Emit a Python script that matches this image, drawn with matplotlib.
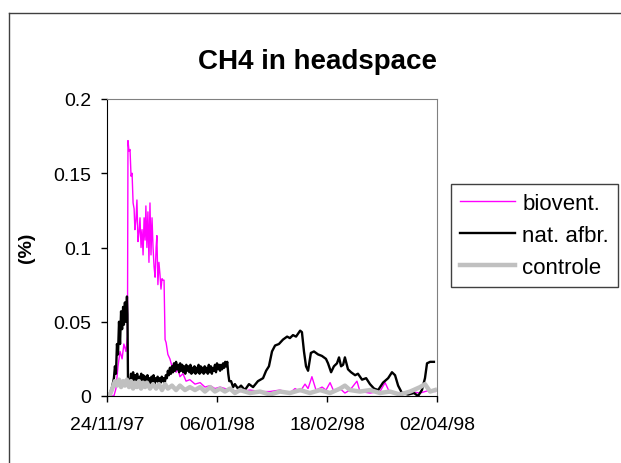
import matplotlib
matplotlib.use("Agg")
import matplotlib.pyplot as plt
import matplotlib.dates as mdates
from matplotlib.lines import Line2D
import numpy as np
import pandas as pd

plt.rcParams['font.family'] = ['Liberation Sans', 'DejaVu Sans']

start = pd.Timestamp('1997-11-24')

# days after 24/11/97, CH4 in %
bio_days = [0, 2.7, 3.5, 4.3, 5.1, 5.9, 6.6, 7.4, 8.0, 8.2, 8.6, 9.0, 9.4, 9.8, 10.2,
            10.6, 10.9, 11.3, 11.7, 12.1, 12.5, 12.9, 13.3, 13.7, 14.1, 14.5, 14.9,
            15.2, 15.6, 16.0, 16.4, 16.8, 17.2, 17.6, 18.0, 18.4, 18.8, 19.2, 19.5,
            19.9, 20.3, 20.7, 21.1, 21.5, 21.9, 22.3, 22.7, 23.1, 23.8, 24.6, 25.4,
            26.2, 27.0, 27.8, 28.5, 29.7, 30.9, 32.4, 34.4, 36.4, 38.3, 40.3, 42.2,
            44.2, 48.1, 52.0, 55.9, 59.8, 63.7, 67.6, 71.5, 73.5, 75.5, 77.4, 78.6,
            80.1, 81.7, 84.1, 85.6, 87.2, 88.7, 91.1, 93.0, 95.0, 97.7, 98.9, 102.8,
            106.7, 108.7, 110.6, 114.5, 118.5, 122.4, 126.3, 128.2]
bio_vals = [0, 0, 0.005, 0.02, 0.03, 0.025, 0.035, 0.03, 0.04, 0.172, 0.165, 0.166,
            0.148, 0.15, 0.13, 0.126, 0.112, 0.118, 0.132, 0.104, 0.11, 0.12, 0.1,
            0.112, 0.095, 0.12, 0.105, 0.128, 0.1, 0.124, 0.09, 0.13, 0.095, 0.12,
            0.1, 0.087, 0.08, 0.1, 0.108, 0.075, 0.09, 0.082, 0.072, 0.079, 0.078,
            0.078, 0.038, 0.036, 0.028, 0.025, 0.02, 0.022, 0.016, 0.018, 0.013,
            0.015, 0.01, 0.011, 0.008, 0.009, 0.006, 0.007, 0.005, 0.006, 0.004,
            0.003, 0.004, 0.003, 0.003, 0.004, 0.002, 0.005, 0.003, 0.008, 0.005,
            0.013, 0.004, 0.006, 0.004, 0.009, 0.003, 0.005, 0.002, 0.004, 0.01,
            0.003, 0.002, 0.003, 0.009, 0.002, 0.002, 0.003, 0.002, 0.004, 0.003]

# nat. afbr.: first peak, dense noisy plateau (readings every 0.4 day), later part
nat_head_days = [0, 1.2, 2.0, 2.7, 3.1, 3.5, 3.9, 4.3, 4.7, 5.1, 5.5, 5.9, 6.3, 6.6,
                 7.0, 7.4, 7.8, 8.0, 8.2]
nat_head_vals = [0, 0.002, 0.006, 0.012, 0.02, 0.015, 0.035, 0.028, 0.05, 0.035,
                 0.057, 0.045, 0.06, 0.048, 0.063, 0.05, 0.067, 0.055, 0.012]
nat_mid_days = [round(9.0 + 0.4 * i, 1) for i in range(98)]
nat_mid_vals = [0.008, 0.015, 0.01, 0.016, 0.009, 0.014, 0.011, 0.015, 0.008, 0.013,
                0.01, 0.015, 0.009, 0.014, 0.01, 0.013, 0.008, 0.014, 0.01, 0.012,
                0.008, 0.013, 0.009, 0.014, 0.008, 0.012, 0.01, 0.013, 0.008, 0.012,
                0.009, 0.013, 0.01, 0.012, 0.009,
                0.014, 0.012, 0.017, 0.014, 0.019, 0.015, 0.02, 0.016, 0.022, 0.017,
                0.023, 0.018, 0.021, 0.016, 0.022, 0.017, 0.021, 0.016, 0.02, 0.015,
                0.021, 0.017, 0.02, 0.016, 0.021, 0.015, 0.019, 0.016, 0.02, 0.015,
                0.019, 0.016, 0.021, 0.015, 0.02, 0.016, 0.019, 0.015, 0.02, 0.016,
                0.019, 0.015, 0.021, 0.016, 0.02, 0.015, 0.019, 0.017, 0.021, 0.016,
                0.022, 0.018, 0.021, 0.017, 0.021, 0.018, 0.022, 0.019, 0.023, 0.02,
                0.023, 0.015, 0.01]
nat_tail_days = [48.5, 49.3, 50.0, 51.2, 52.4, 53.9,
                 55.5, 57.1, 59.0, 61.0, 62.2, 63.3, 64.5, 65.7, 67.2, 68.8, 70.4, 71.5,
                 72.7, 73.9, 75.5, 76.2, 77.0, 77.8, 78.6, 79.7, 80.9, 82.5, 84.0, 85.6,
                 86.4, 87.6, 88.7, 89.9, 90.7, 91.5, 92.3, 93.0, 94.2, 95.4, 97.0, 98.1,
                 99.7, 101.3, 102.8, 104.4, 106.0, 107.9, 109.9, 111.4, 112.6, 113.8,
                 115.3, 117.7, 120.0, 121.6, 123.1, 124.3, 125.1, 126.3, 127.8]
nat_tail_vals = [0.01, 0.006, 0.008, 0.005, 0.007, 0.004, 0.008, 0.006, 0.01, 0.012,
                 0.017, 0.02, 0.03, 0.034, 0.035, 0.038, 0.04, 0.039, 0.041, 0.04,
                 0.044, 0.043, 0.03, 0.02, 0.017, 0.029, 0.03, 0.028, 0.027, 0.025,
                 0.022, 0.016, 0.02, 0.022, 0.026, 0.02, 0.021, 0.026, 0.018, 0.016,
                 0.014, 0.015, 0.011, 0.012, 0.008, 0.005, 0.004, 0.009, 0.012, 0.016,
                 0.014, 0.007, 0.002, 0.001, 0.002, 0.0, 0.004, 0.012, 0.022, 0.023,
                 0.023]

ctl_days = [0, 1.2, 2.3, 3.1, 3.9, 4.7, 5.5, 6.3, 7.0, 7.8, 8.6, 9.4, 10.2, 10.9,
            11.7, 12.5, 13.3, 14.1, 14.9, 15.6, 16.8, 18.0, 19.2, 20.3, 21.5, 22.7,
            23.8, 25.4, 27.0, 28.5, 30.5, 32.4, 34.4, 36.4, 38.3, 40.3, 42.2, 44.2,
            46.1, 48.1, 50.0, 52.0, 55.9, 59.8, 63.7, 67.6, 71.5, 75.5, 79.3, 83.3,
            87.2, 91.1, 93.0, 95.0, 98.9, 102.8, 106.7, 110.6, 114.5, 118.5, 122.4,
            124.3, 126.3, 128.2]
ctl_vals = [0, 0.001, 0.006, 0.01, 0.007, 0.011, 0.006, 0.01, 0.007, 0.011, 0.006,
            0.01, 0.005, 0.009, 0.006, 0.01, 0.005, 0.009, 0.006, 0.009, 0.005,
            0.008, 0.005, 0.008, 0.004, 0.008, 0.005, 0.007, 0.004, 0.007, 0.004,
            0.006, 0.004, 0.006, 0.003, 0.006, 0.003, 0.005, 0.003, 0.005, 0.002,
            0.004, 0.002, 0.003, 0.001, 0.003, 0.002, 0.004, 0.002, 0.004, 0.002,
            0.005, 0.007, 0.004, 0.003, 0.004, 0.002, 0.003, 0.001, 0.003, 0.006,
            0.008, 0.003, 0.004]

tick_dates = ['1997-11-24', '1998-01-06', '1998-02-18', '1998-04-02']
y_ticks = [0, 0.05, 0.1, 0.15, 0.2]
y_labels = ['0', '0.05', '0.1', '0.15', '0.2']


def to_dates(days):
    return start + pd.to_timedelta(days, unit='D')


nat_days = nat_head_days + nat_mid_days + nat_tail_days
nat_vals = nat_head_vals + nat_mid_vals + nat_tail_vals

fig = plt.figure(figsize=(6.21, 4.64), dpi=100)
ax = fig.add_axes([107 / 621, 67 / 464, 330 / 621, 297 / 464])

ax.plot(to_dates(bio_days), bio_vals, color='#ff00ff', lw=1.0, label='biovent.')
ax.plot(to_dates(nat_days), nat_vals, color='black', lw=1.7, label='nat. afbr.')
ax.plot(to_dates(ctl_days), ctl_vals, color='#c0c0c0', lw=3.2, label='controle')

ax.set_xlim(pd.Timestamp(tick_dates[0]), pd.Timestamp(tick_dates[-1]))
ax.set_ylim(0, 0.2)
ax.set_xticks([pd.Timestamp(d) for d in tick_dates])
ax.xaxis.set_major_formatter(mdates.DateFormatter('%d/%m/%y'))
ax.set_yticks(y_ticks)
ax.set_yticklabels(y_labels)
ax.tick_params(direction='out', length=4.5, width=1, labelsize=14, pad=7)
ax.tick_params(axis='x', pad=10)

for s in ['top', 'right']:
    ax.spines[s].set_color('#808080')
for s in ['left', 'bottom']:
    ax.spines[s].set_color('black')

fig.text(317 / 621, 1 - 62 / 464, 'CH4 in headspace', ha='center', va='center',
         fontsize=20, fontweight='bold')
fig.text(27 / 621, 1 - 248 / 464, '(%)', ha='center', va='center', rotation=90,
         fontsize=14, fontweight='bold')

leg = ax.legend(loc='upper left', bbox_to_anchor=(451 / 621, 1 - 185 / 464),
                bbox_transform=fig.transFigure, fontsize=16, frameon=True,
                fancybox=False, framealpha=1, edgecolor='#404040',
                handlelength=2.5, handletextpad=0.3, labelspacing=0.5,
                borderpad=0.4, borderaxespad=0)
leg.get_frame().set_linewidth(1)

# chart area border (left and top visible)
fig.add_artist(Line2D([9 / 621, 9 / 621], [0, 1 - 14 / 464], transform=fig.transFigure,
                      color='#404040', lw=1))
fig.add_artist(Line2D([9 / 621, 1], [1 - 14 / 464, 1 - 14 / 464],
                      transform=fig.transFigure, color='#404040', lw=1))

fig.savefig('out.png', dpi=100)
